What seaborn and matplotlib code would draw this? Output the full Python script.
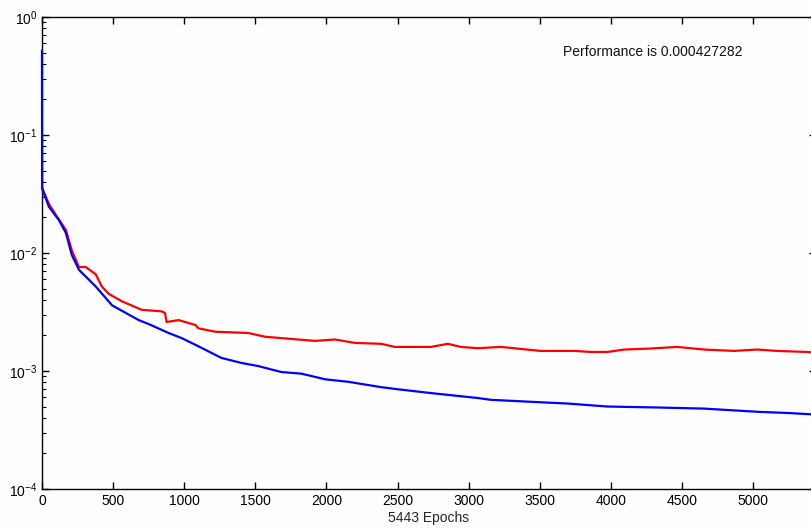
"""
Training performance plot (MATLAB nntool style) redone with seaborn
"""
import pandas as pd
import seaborn as sns
import matplotlib
matplotlib.use('Agg')
import matplotlib.pyplot as plt
from matplotlib.ticker import LogLocator, NullFormatter

# blue curve - training error
train_epochs = [0, 1, 49, 119, 168, 210, 260, 378, 493, 680, 750, 890, 982, 1100, 1262, 1403,
                1522, 1683, 1823, 1992, 2153, 2384, 2503, 2735, 3065, 3156, 3415, 3695, 3976,
                4348, 4656, 5049, 5259, 5443]
train_perf = [0.52, 0.035, 0.0246, 0.019, 0.0148, 0.0096, 0.0072, 0.0052, 0.0036, 0.0027, 0.0025,
              0.0021, 0.0019, 0.00162, 0.00129, 0.00117, 0.0011, 0.00098, 0.00095, 0.00085,
              0.00081, 0.00073, 0.0007, 0.00065, 0.00059, 0.00057, 0.00055, 0.00053, 0.0005,
              0.00049, 0.00048, 0.00045, 0.00044, 0.000427]

# red curve - validation error
val_epochs = [0, 49, 98, 168, 210, 260, 308, 378, 421, 470, 561, 701, 842, 865, 877, 961, 1080,
              1100, 1220, 1450, 1570, 1683, 1920, 2060, 2200, 2384, 2480, 2735, 2854, 2945, 3065,
              3226, 3506, 3745, 3857, 3976, 4095, 4278, 4467, 4656, 4867, 5028, 5168, 5379, 5443]
val_perf = [0.036, 0.026, 0.021, 0.0157, 0.0105, 0.0076, 0.0076, 0.0066, 0.0052, 0.0045, 0.0039,
            0.0033, 0.0032, 0.0031, 0.0026, 0.0027, 0.00245, 0.0023, 0.00215, 0.0021, 0.00195,
            0.0019, 0.0018, 0.00185, 0.00173, 0.0017, 0.0016, 0.0016, 0.0017, 0.0016, 0.00156,
            0.0016, 0.00148, 0.00148, 0.00145, 0.00145, 0.00152, 0.00155, 0.0016, 0.00152,
            0.00148, 0.00152, 0.00148, 0.00145, 0.00143]

x_ticks = [0, 500, 1000, 1500, 2000, 2500, 3000, 3500, 4000, 4500, 5000]
n_epochs = 5443
perf_text = "Performance is 0.000427282"

sns.set_style('ticks')
plt.rcParams['font.family'] = ['Liberation Sans', 'DejaVu Sans']
plt.rcParams['mathtext.default'] = 'regular'
plt.rcParams['axes.unicode_minus'] = False

df = pd.concat([
    pd.DataFrame({'epoch': train_epochs, 'perf': train_perf, 'set': 'train'}),
    pd.DataFrame({'epoch': val_epochs, 'perf': val_perf, 'set': 'validation'}),
])

fig = plt.figure(figsize=(8.11, 5.28), dpi=100)
fig.patch.set_facecolor('#fefefe')
ax = fig.add_axes([42 / 811, 39 / 528, 774 / 811, 472 / 528])
ax.set_facecolor('#fefefe')

sns.lineplot(data=df, x='epoch', y='perf', hue='set', palette={'train': 'blue', 'validation': 'red'},
             hue_order=['validation', 'train'], linewidth=1.6, legend=False, ax=ax, sort=False,
             zorder=3)
# let the lines sit on top of the left spine like matlab does
for line in ax.get_lines():
    line.set_clip_on(False)

ax.set_yscale('log')
ax.set_ylim(1e-4, 1)
ax.set_xlim(0, n_epochs)
ax.set_xticks(x_ticks)
ax.yaxis.set_major_locator(LogLocator(base=10, numticks=10))
ax.yaxis.set_minor_locator(LogLocator(base=10, subs=range(2, 10), numticks=20))
ax.yaxis.set_minor_formatter(NullFormatter())
ax.tick_params(which='both', direction='in', top=True, right=True, labelsize=10, colors='black')
ax.tick_params(which='major', length=5, width=1)
ax.tick_params(which='minor', length=3, width=0.8)
for s in ax.spines.values():
    s.set_color('black')
    s.set_linewidth(1)

ax.set_xlabel(f"{n_epochs} Epochs", fontsize=10, labelpad=2)
ax.set_ylabel('')
ax.text(0.789, 0.925, perf_text, transform=ax.transAxes, ha='center', va='center', fontsize=10,
        color='#111111')

fig.savefig('out.png', dpi=100, facecolor=fig.get_facecolor())
